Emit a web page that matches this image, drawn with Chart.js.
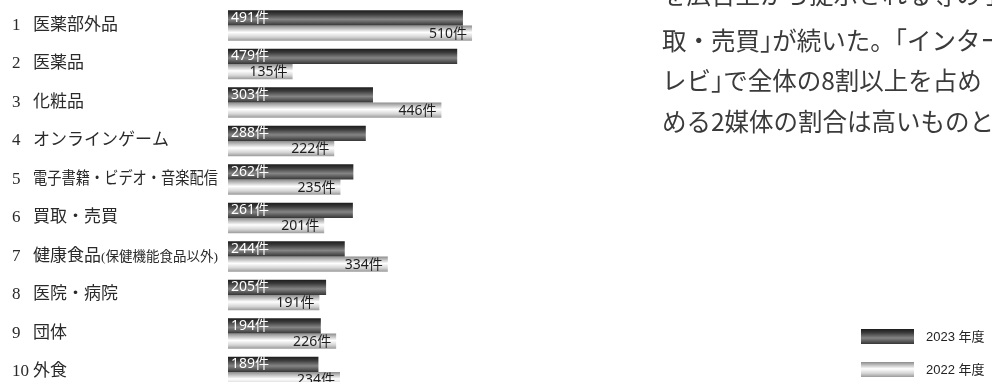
<!DOCTYPE html>
<html lang="ja">
<head>
<meta charset="utf-8">
<script src="https://cdn.jsdelivr.net/npm/chart.js@4/dist/chart.umd.min.js"></script>
<style>
  html, body { margin: 0; padding: 0; background: #fff; }
  body { width: 992px; height: 382px; overflow: hidden; position: relative; }
  #chart { position: absolute; left: 0; top: 0; }
  .note {
    position: absolute; left: 662px; top: -21px; width: 330px; overflow: hidden;
    white-space: nowrap; font-family: "Noto Sans CJK JP", sans-serif;
    font-size: 24.5px; line-height: 40.5px; color: #3a3a3a;
  }
  .note div:first-child { position: relative; top: -5px; }
  .note .h { font-feature-settings: "halt"; }
</style>
</head>
<body>
<canvas id="chart" width="992" height="400"></canvas>
<div class="note">
  <div>を広告上から提示される等の手口</div>
  <div>取・売買<span class="h">」</span>が続いた。<span class="h">「</span>インター</div>
  <div>レビ<span class="h">」</span>で全体の8割以上を占め</div>
  <div>める2媒体の割合は高いものと</div>
</div>
<script>
const RANKS = ['1', '2', '3', '4', '5', '6', '7', '8', '9', '10'];
const CATEGORIES = ['医薬部外品', '医薬品', '化粧品', 'オンラインゲーム', '電子書籍・ビデオ・音楽配信',
    '買取・売買', '健康食品', '医院・病院', '団体', '外食'];
const CATEGORY_NOTES = ['', '', '', '', '', '', '(保健機能食品以外)', '', '', ''];
const SERIES_LABELS = ['2023 年度', '2022 年度'];
const VALUES_2023 = [491, 479, 303, 288, 262, 261, 244, 205, 194, 189];
const VALUES_2022 = [510, 135, 446, 222, 235, 201, 334, 191, 226, 234];
const UNIT = '件';

const SHADES = [
    [[0, '#1c1c1c'], [0.25, '#3c3c3c'], [0.6, '#858585'], [1, '#353535']],
    [[0, '#8c8c8c'], [0.45, '#ffffff'], [0.75, '#d6d6d6'], [1, '#9a9a9a']]
];

function makeGradient(ctx, top, bottom, stops) {
    const g = ctx.createLinearGradient(0, top, 0, bottom);
    stops.forEach(([pos, col]) => g.addColorStop(pos, col));
    return g;
}

// gradient for every bar, once the bars have their positions
const barShading = {
    id: 'barShading',
    beforeDatasetsDraw(chart) {
        chart.data.datasets.forEach((ds, i) => {
            chart.getDatasetMeta(i).data.forEach(bar => {
                const top = bar.y - bar.height / 2;
                bar.options.backgroundColor = makeGradient(chart.ctx, top, top + bar.height, SHADES[i]);
            });
        });
    }
};

const rowLabels = {
    id: 'rowLabels',
    afterDraw(chart) {
        const ctx = chart.ctx;
        const y = chart.scales.y;
        ctx.save();
        ctx.fillStyle = '#2a2a2a';
        ctx.textBaseline = 'middle';
        ctx.textAlign = 'left';
        CATEGORIES.forEach((name, i) => {
            const cy = y.getPixelForValue(i);
            ctx.font = '17px "Liberation Serif", "Noto Sans CJK JP"';
            ctx.fillText(RANKS[i], 12, cy);
            ctx.fillText(name, 33, cy, 185);
            if (CATEGORY_NOTES[i]) {
                const w = ctx.measureText(name).width;
                ctx.font = '13.5px "Liberation Serif", "Noto Sans CJK JP"';
                ctx.fillText(CATEGORY_NOTES[i], 33 + w, cy + 1, 220 - 33 - w);
            }
        });
        ctx.restore();
    }
};

const valueLabels = {
    id: 'valueLabels',
    afterDatasetsDraw(chart) {
        const ctx = chart.ctx;
        ctx.save();
        ctx.font = '14px "Noto Sans", "Noto Sans CJK JP"';
        ctx.textBaseline = 'middle';
        chart.data.datasets.forEach((ds, i) => {
            chart.getDatasetMeta(i).data.forEach((bar, j) => {
                const txt = ds.data[j] + UNIT;
                if (i === 0) {
                    ctx.fillStyle = '#ffffff';
                    ctx.textAlign = 'left';
                    ctx.fillText(txt, bar.base + 3, bar.y);
                } else {
                    ctx.fillStyle = '#1e1e1e';
                    ctx.textAlign = 'right';
                    ctx.fillText(txt, bar.x - 5, bar.y + 0.5);
                }
            });
        });
        ctx.restore();
    }
};

const boxLegend = {
    id: 'boxLegend',
    afterDraw(chart) {
        const ctx = chart.ctx;
        ctx.save();
        ctx.font = '13px "Liberation Sans", "Noto Sans CJK JP"';
        ctx.textBaseline = 'middle';
        ctx.textAlign = 'left';
        SERIES_LABELS.forEach((label, i) => {
            const top = 329 + i * 33;
            ctx.fillStyle = makeGradient(ctx, top, top + 15, SHADES[i]);
            ctx.fillRect(861, top, 53, 15);
            ctx.fillStyle = '#222';
            ctx.fillText(label, 926, top + 8);
        });
        ctx.restore();
    }
};

new Chart(document.getElementById('chart'), {
    type: 'bar',
    data: {
        labels: CATEGORIES,
        datasets: [
            { label: SERIES_LABELS[0], data: VALUES_2023, backgroundColor: () => '#555' },
            { label: SERIES_LABELS[1], data: VALUES_2022, backgroundColor: () => '#ccc' }
        ]
    },
    options: {
        indexAxis: 'y',
        responsive: false,
        animation: false,
        devicePixelRatio: 1,
        layout: { padding: { left: 228, right: 285.5, top: 6.25, bottom: 8.75 } },
        datasets: {
            bar: { categoryPercentage: 0.79, barPercentage: 1, borderWidth: 0 }
        },
        scales: {
            x: { display: false, min: 0, max: 1000 },
            y: { display: false }
        },
        plugins: {
            legend: { display: false },
            tooltip: { enabled: false }
        }
    },
    plugins: [barShading, valueLabels, rowLabels, boxLegend]
});
</script>
</body>
</html>
